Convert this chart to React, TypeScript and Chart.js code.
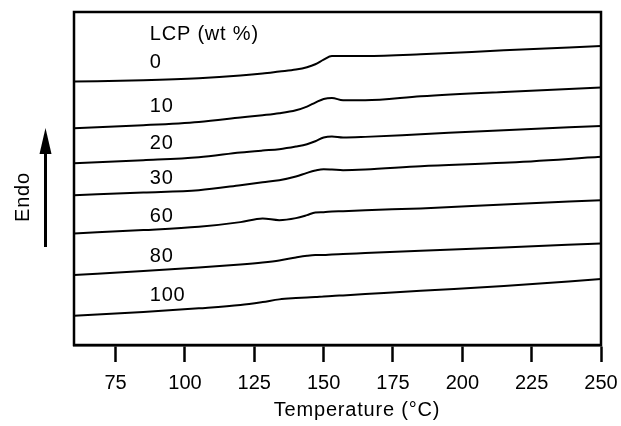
import { useEffect, useRef } from "react";
import { Chart, registerables } from "chart.js";

Chart.register(...registerables);

// DSC heating scans of blends with different LCP contents (arbitrary endo units, offset per curve)
const temperatures = [60, 85, 105, 120, 128, 134, 140, 144, 147, 150, 153, 157, 165, 185, 215, 250];
const lcpContents = ["0", "10", "20", "30", "60", "80", "100"];

const heatFlow0 = [79.1, 79.5, 80.1, 80.9, 81.5, 82.1, 82.7, 83.4, 84.3, 85.7, 86.8, 86.8, 86.8, 87.3, 88.5, 89.8];
const heatFlow10 = [65.1, 66.0, 67.0, 68.3, 69.0, 69.6, 70.5, 71.6, 72.8, 73.9, 74.2, 73.5, 73.5, 74.7, 76.0, 77.3];
const heatFlow20 = [54.6, 55.5, 56.4, 57.8, 58.4, 58.8, 59.6, 60.3, 61.2, 62.3, 62.6, 62.3, 62.5, 63.3, 64.5, 65.8];
const heatFlow30 = [45.0, 45.8, 46.5, 48.0, 48.9, 49.5, 50.6, 51.7, 52.4, 52.8, 52.7, 52.5, 52.7, 53.7, 54.7, 56.5];
const heatFlow60 = [33.5, 34.5, 35.5, 36.9, 38.0, 37.5, 38.1, 39.0, 39.8, 39.9, 40.1, 40.2, 40.5, 41.0, 42.2, 43.5];
const heatFlow80 = [21.0, 22.2, 23.3, 24.2, 24.8, 25.4, 26.3, 26.8, 27.0, 27.0, 27.2, 27.3, 27.6, 28.3, 29.3, 30.5];
const heatFlow100 = [8.8, 9.9, 11.0, 12.0, 12.9, 13.7, 14.1, 14.3, 14.4, 14.6, 14.7, 14.9, 15.3, 16.3, 17.7, 19.8];

const heatFlows = [heatFlow0, heatFlow10, heatFlow20, heatFlow30, heatFlow60, heatFlow80, heatFlow100];

const temperatureTicks = [75, 100, 125, 150, 175, 200, 225, 250];

const FONT = '"Liberation Sans", Arial, Helvetica, sans-serif';

// where each composition label sits (temperature of its left edge, endo value of its centre)
const labelT = 87.3;
const labelLevels = [84.9, 71.5, 60.5, 50.1, 38.5, 26.5, 14.8];
const headerLevel = 93.2;

const annotations = {
  id: "annotations",
  afterDraw(chart: any) {
    const { ctx, chartArea, scales } = chart;
    const x = scales.x;
    const y = scales.y;
    ctx.save();

    // frame around the plot
    ctx.strokeStyle = "#000";
    ctx.lineWidth = 2.5;
    ctx.strokeRect(chartArea.left, chartArea.top, chartArea.right - chartArea.left, chartArea.bottom - chartArea.top);

    ctx.fillStyle = "#000";
    ctx.font = `20px ${FONT}`;
    (ctx as any).letterSpacing = "0.8px";
    ctx.textBaseline = "middle";
    ctx.textAlign = "left";
    const lx = x.getPixelForValue(labelT);
    ctx.fillText("LCP (wt %)", lx, y.getPixelForValue(headerLevel));
    lcpContents.forEach((name, i) => {
      ctx.fillText(name, lx, y.getPixelForValue(labelLevels[i]));
    });

    // axis title
    ctx.textAlign = "center";
    ctx.fillText("Temperature (°C)", 357, 410);

    // vertical "Endo" label with upward arrow
    ctx.save();
    ctx.translate(23, 197);
    ctx.rotate(-Math.PI / 2);
    ctx.fillText("Endo", 0, 0);
    ctx.restore();

    ctx.lineWidth = 3;
    ctx.beginPath();
    ctx.moveTo(45.5, 247);
    ctx.lineTo(45.5, 150);
    ctx.stroke();
    ctx.beginPath();
    ctx.moveTo(45.5, 128);
    ctx.lineTo(51.5, 154);
    ctx.lineTo(39.5, 154);
    ctx.closePath();
    ctx.fill();

    ctx.restore();
  },
};

export default function App() {
  const canvasRef = useRef<HTMLCanvasElement | null>(null);

  useEffect(() => {
    const canvas = canvasRef.current;
    if (!canvas) return;
    const chart = new Chart(canvas, {
      type: "line",
      data: {
        datasets: heatFlows.map((values, i) => ({
          label: lcpContents[i],
          data: temperatures.map((t, j) => ({ x: t, y: values[j] })),
          borderColor: "#000",
          borderWidth: 2,
          pointRadius: 0,
          fill: false,
          cubicInterpolationMode: "monotone" as const,
        })),
      },
      options: {
        animation: false,
        responsive: false,
        devicePixelRatio: 1,
        layout: { padding: { left: 74, right: 20, top: 12, bottom: 0 } },
        plugins: { legend: { display: false }, tooltip: { enabled: false } },
        scales: {
          x: {
            type: "linear",
            min: 60,
            max: 250,
            afterBuildTicks: (s: any) => {
              s.ticks = temperatureTicks.map((v) => ({ value: v }));
            },
            afterFit: (s: any) => {
              s.height = 81;
              s.paddingLeft = 0;
              s.paddingRight = 0;
            },
            grid: {
              display: true,
              drawOnChartArea: false,
              drawTicks: true,
              tickLength: 17,
              tickWidth: 2.5,
              tickColor: "#000",
              color: "#000",
            },
            border: { display: true, color: "#000", width: 2.5 },
            ticks: {
              color: "#000",
              font: { family: FONT, size: 20 },
              padding: 9,
              maxRotation: 0,
              autoSkip: false,
            },
          },
          y: {
            type: "linear",
            min: 0,
            max: 100,
            display: false,
          },
        },
      },
      plugins: [annotations],
    });
    return () => chart.destroy();
  }, []);

  return (
    <div style={{ position: "absolute", left: 0, top: 0, width: 621, height: 426, background: "#fff" }}>
      <canvas ref={canvasRef} width={621} height={426} style={{ display: "block" }} />
    </div>
  );
}
